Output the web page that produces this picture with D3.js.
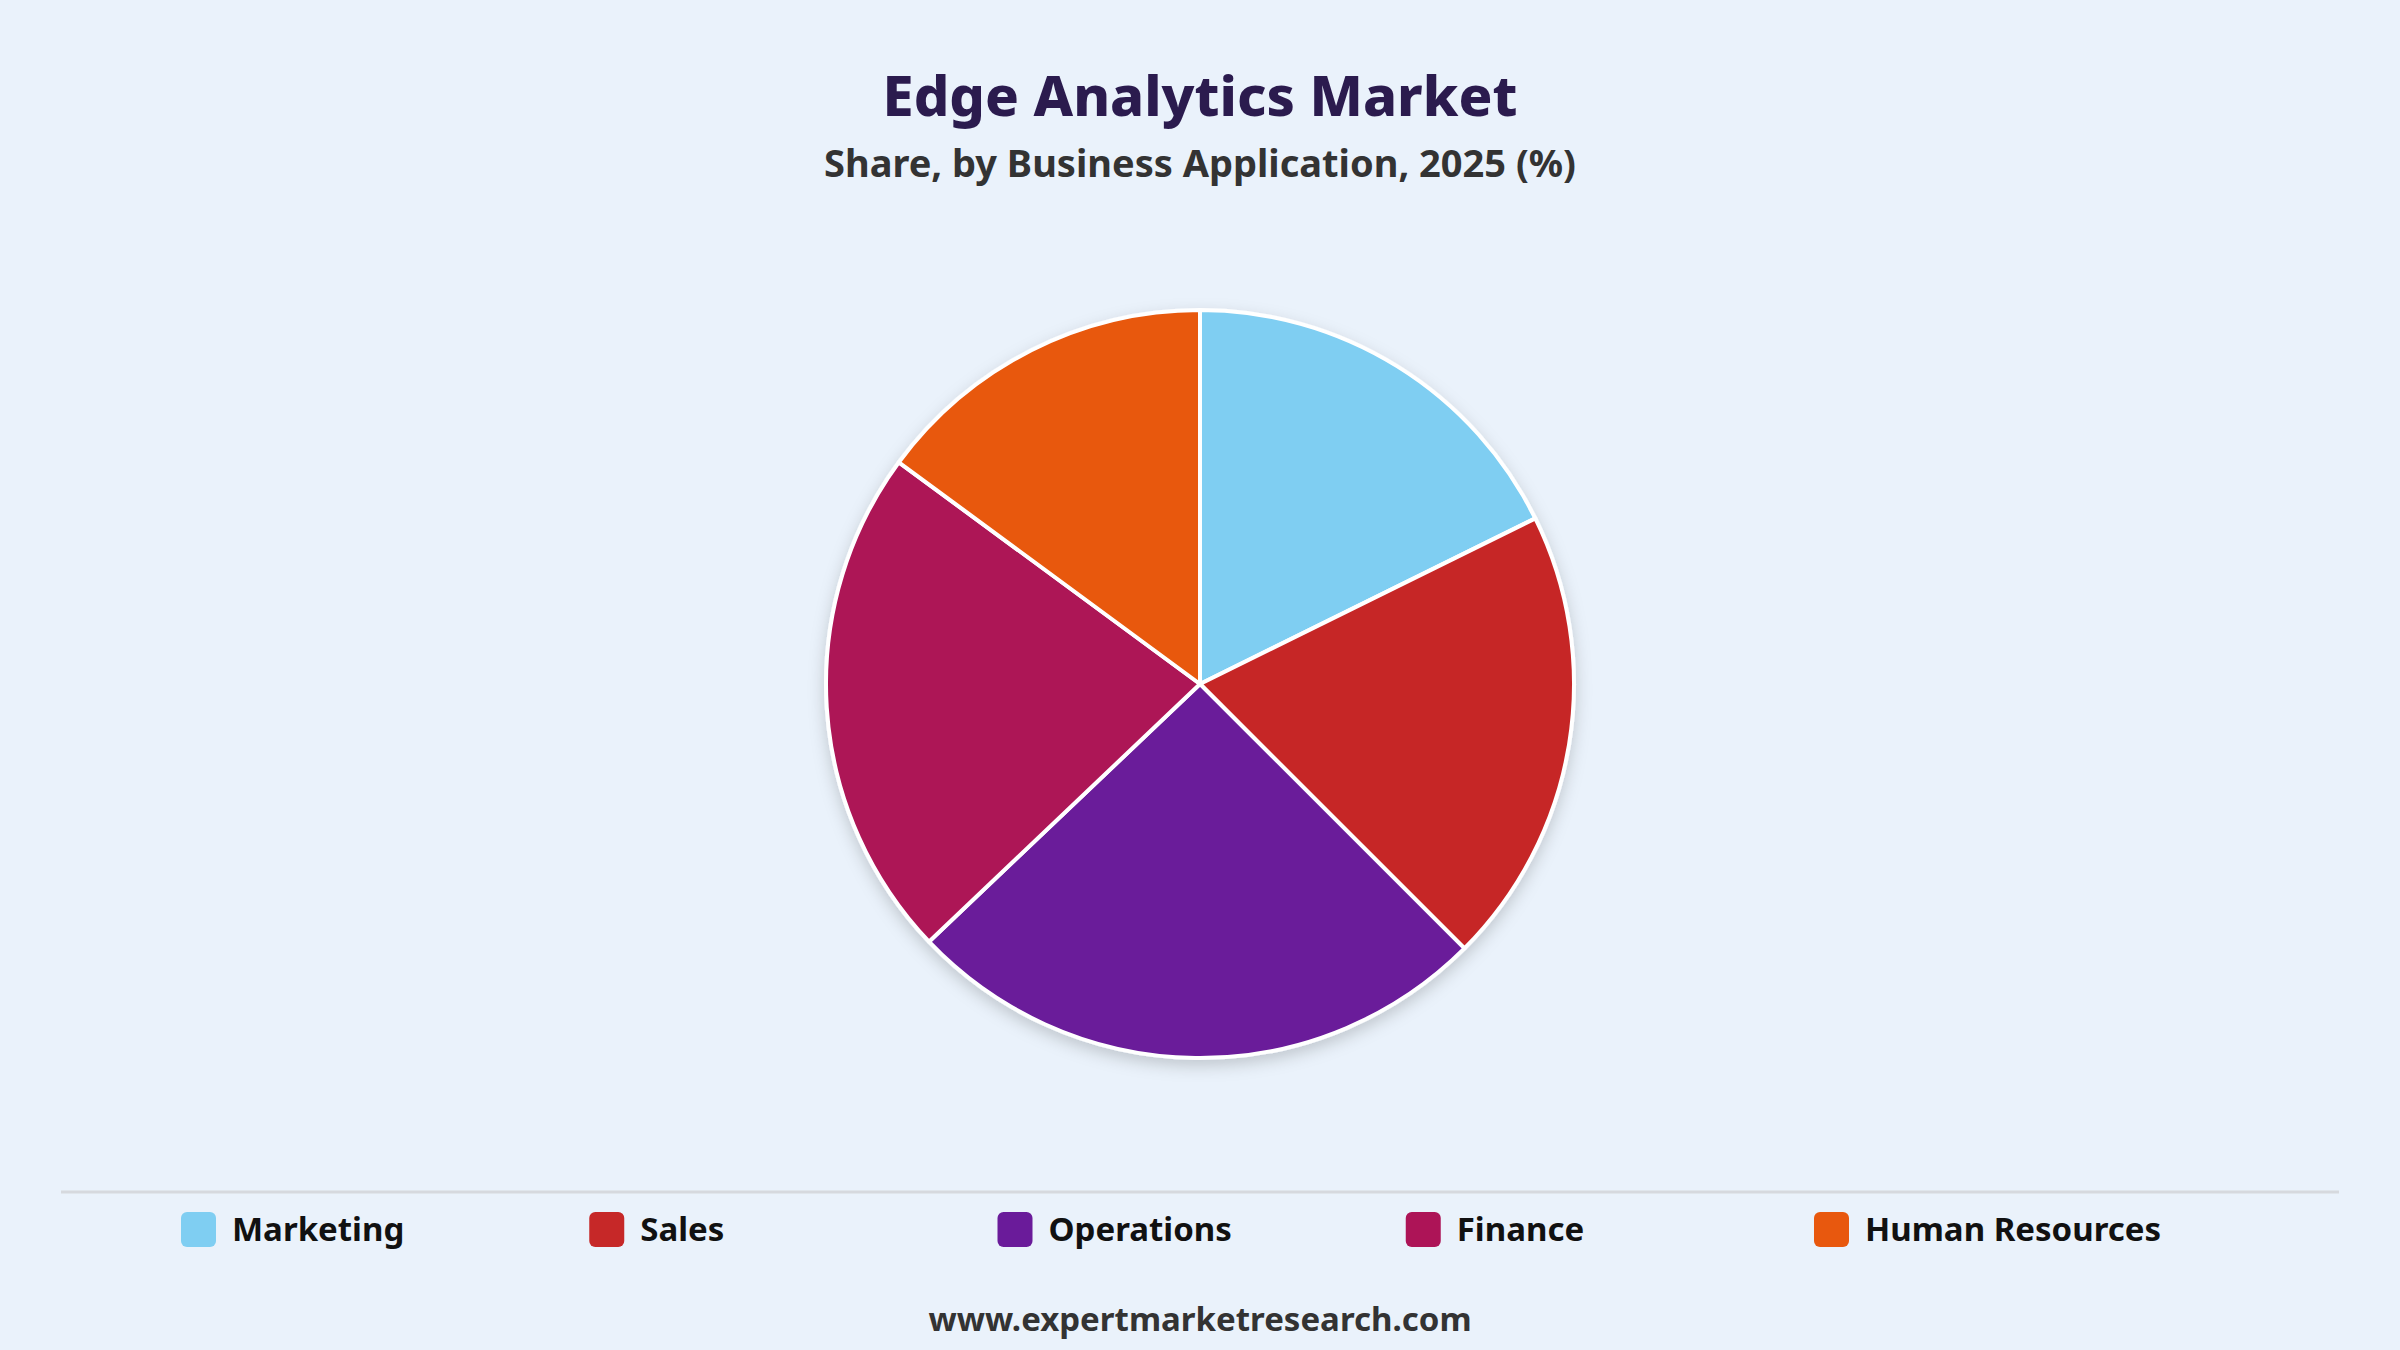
<!DOCTYPE html>
<html>
<head>
<meta charset="utf-8">
<script src="https://cdn.jsdelivr.net/npm/d3@7"></script>
<style>
  body { margin:0; background:#eaf2fb; font-family:"Noto Sans","Open Sans",sans-serif; }
</style>
</head>
<body>
<svg id="chart" width="2400" height="1350"></svg>
<script>
// Data
var categories = ["Marketing", "Sales", "Operations", "Finance", "Human Resources"];
var shares = [17.7, 19.8, 25.4, 22.2, 14.9];
var colours = ["#7fcef2", "#c62828", "#6a1b9a", "#ad1457", "#e8580e"];

var width = 2400, height = 1350;
var svg = d3.select("#chart");

svg.append("rect").attr("width", width).attr("height", height).attr("fill", "#eaf2fb");

// Titles
svg.append("text").attr("x", width/2).attr("y", 116).attr("text-anchor", "middle")
  .attr("font-size", 56).attr("font-weight", 800).attr("fill", "#2b1b4e")
  .text("Edge Analytics Market");
svg.append("text").attr("x", width/2).attr("y", 177).attr("text-anchor", "middle")
  .attr("font-size", 38).attr("font-weight", 700).attr("fill", "#333")
  .text("Share, by Business Application, 2025 (%)");

// Shadow
var defs = svg.append("defs");
var f = defs.append("filter").attr("id", "shadow").attr("x", "-20%").attr("y", "-20%")
  .attr("width", "140%").attr("height", "140%");
f.append("feDropShadow").attr("dx", 0).attr("dy", 6).attr("stdDeviation", 8)
  .attr("flood-color", "#000").attr("flood-opacity", 0.18);

// Pie
var radius = 374;
var pie = d3.pie().sort(null).value(function(d){ return d; });
var arc = d3.arc().innerRadius(0).outerRadius(radius);
var colour = d3.scaleOrdinal().domain(categories).range(colours);

var g = svg.append("g").attr("transform", "translate(1200,684)").attr("filter", "url(#shadow)");
g.selectAll("path").data(pie(shares)).enter()
  .append("path")
    .attr("d", arc)
    .attr("fill", function(d, i){ return colour(categories[i]); })
    .attr("stroke", "#fff")
    .attr("stroke-width", 4)
    .attr("stroke-linejoin", "round");

// Legend
svg.append("line").attr("x1", 61).attr("x2", 2339).attr("y1", 1192).attr("y2", 1192)
  .attr("stroke", "#d6d9de").attr("stroke-width", 3);

var legendX = d3.scalePoint().domain(categories).range([181, 1814]);
var items = svg.selectAll(".legend").data(categories).enter()
  .append("g").attr("class", "legend")
  .attr("transform", function(d){ return "translate(" + legendX(d) + ",1229)"; });
items.append("rect").attr("x", 0).attr("y", -17).attr("width", 35).attr("height", 35)
  .attr("rx", 6).attr("fill", function(d){ return colour(d); });
items.append("text").attr("x", 51).attr("y", 12).attr("font-size", 33).attr("font-weight", 700)
  .attr("fill", "#111").text(function(d){ return d; });

// Footer
svg.append("text").attr("x", width/2).attr("y", 1331).attr("text-anchor", "middle")
  .attr("font-size", 33).attr("font-weight", 700).attr("fill", "#333")
  .text("www.expertmarketresearch.com");
</script>
</body>
</html>
